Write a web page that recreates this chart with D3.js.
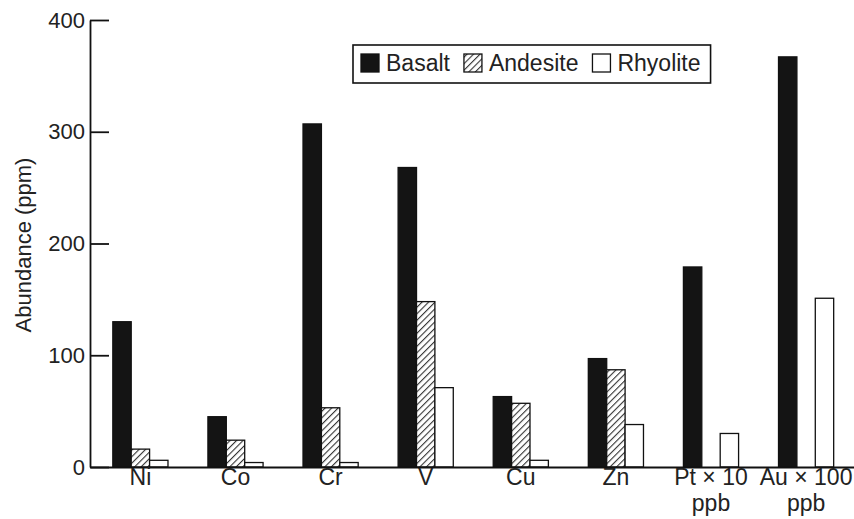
<!DOCTYPE html>
<html>
<head>
<meta charset="utf-8">
<script src="https://cdn.jsdelivr.net/npm/d3@7"></script>
<style>
  html, body { margin: 0; padding: 0; background: #fff; }
  svg { display: block; font-family: "Liberation Sans", Arial, sans-serif; }
</style>
</head>
<body>
<svg id="chart" width="854" height="519"></svg>
<script>
// elements (two-line labels split with \n)
const elements = ['Ni', 'Co', 'Cr', 'V', 'Cu', 'Zn', 'Pt \u00d7 10\nppb', 'Au \u00d7 100\nppb'];
const rockTypes = ['Basalt', 'Andesite', 'Rhyolite'];
const basalt   = [130, 45, 307, 268, 63, 97, 179, 367];
const andesite = [16, 24, 53, 148, 57, 87, null, null];
const rhyolite = [6, 4, 4, 71, 6, 38, 30, 151];
const yTicks = [0, 100, 200, 300, 400];

const series = { Basalt: basalt, Andesite: andesite, Rhyolite: rhyolite };

const width = 854, height = 519;
const margin = { left: 90, bottom: 52, top: 20 };
const fontSize = 22;
const labelSize = 23;

const svg = d3.select('#chart');

// hatch for andesite
const defs = svg.append('defs');
defs.append('pattern')
    .attr('id', 'hatch')
    .attr('patternUnits', 'userSpaceOnUse')
    .attr('width', 4.6)
    .attr('height', 4.6)
    .attr('patternTransform', 'rotate(45)')
  .call(p => {
    p.append('rect').attr('width', 4.6).attr('height', 4.6).attr('fill', '#fff');
    p.append('line')
      .attr('x1', 0).attr('y1', 0).attr('x2', 0).attr('y2', 4.6)
      .attr('stroke', '#333').attr('stroke-width', 2.2);
  });

const fills = { Basalt: '#141414', Andesite: 'url(#hatch)', Rhyolite: '#fff' };

const x0 = d3.scaleBand()
  .domain(elements)
  .range([margin.left, 856.5])
  .paddingInner(0.42)
  .paddingOuter(0.24);

const x1 = d3.scaleBand()
  .domain(rockTypes)
  .range([0, x0.bandwidth()]);

const y = d3.scaleLinear()
  .domain([0, 400])
  .range([height - margin.bottom, margin.top]);

// bars
const groups = svg.append('g').attr('class', 'bars')
  .selectAll('g')
  .data(elements)
  .join('g')
    .attr('transform', d => `translate(${x0(d)},0)`);

groups.selectAll('rect')
  .data((d, i) => rockTypes
    .map(r => ({ key: r, value: series[r][i] }))
    .filter(v => v.value != null))
  .join('rect')
    .attr('x', d => x1(d.key))
    .attr('y', d => y(d.value))
    .attr('width', x1.bandwidth())
    .attr('height', d => y(0) - y(d.value))
    .attr('fill', d => fills[d.key])
    .attr('stroke', '#111')
    .attr('stroke-width', 1.3);

// y axis, ticks pointing inward
const yAxis = svg.append('g')
  .attr('transform', `translate(${margin.left},0)`)
  .call(d3.axisLeft(y).tickValues(yTicks).tickSize(-19).tickSizeOuter(0).tickPadding(5));
yAxis.selectAll('path, line').attr('stroke', '#111').attr('stroke-width', 1.8);
yAxis.selectAll('text')
  .attr('font-size', fontSize)
  .attr('font-family', '"Liberation Sans", Arial, sans-serif')
  .attr('fill', '#222');

// x axis
const xAxis = svg.append('g')
  .attr('transform', `translate(0,${y(0)})`)
  .call(d3.axisBottom(x0).tickSize(0).tickSizeOuter(0).tickFormat(''));
xAxis.select('.domain').attr('stroke', '#111').attr('stroke-width', 1.8);
xAxis.selectAll('.tick text').remove();
xAxis.selectAll('.tick').each(function(d) {
  d3.select(this).selectAll('text.lbl')
    .data(d.split('\n'))
    .join('text')
      .attr('class', 'lbl')
      .attr('x', 0)
      .attr('y', (s, i) => 18 + i * 26)
      .attr('text-anchor', 'middle')
      .attr('font-size', labelSize)
      .attr('font-family', '"Liberation Sans", Arial, sans-serif')
      .attr('fill', '#222')
      .text(s => s);
});

// y title
svg.append('text')
  .attr('transform', `translate(31,245) rotate(-90)`)
  .attr('text-anchor', 'middle')
  .attr('font-size', fontSize)
  .attr('fill', '#222')
  .text('Abundance (ppm)');

// legend
const legend = svg.append('g').attr('class', 'legend');
const legendBox = legend.append('rect')
  .attr('x', 353).attr('y', 45).attr('height', 38)
  .attr('fill', '#fff').attr('stroke', '#111').attr('stroke-width', 1.6);

let lx = 361;
rockTypes.forEach(r => {
  legend.append('rect')
    .attr('x', lx).attr('y', 54)
    .attr('width', 18).attr('height', 18)
    .attr('fill', fills[r])
    .attr('stroke', '#111').attr('stroke-width', 1.3);
  const txt = legend.append('text')
    .attr('x', lx + 25).attr('y', 71)
    .attr('font-size', labelSize)
    .attr('fill', '#222')
    .text(r);
  lx += 25 + txt.node().getComputedTextLength() + 14;
});
legendBox.attr('width', lx - 14 + 10 - 353);
</script>
</body>
</html>
